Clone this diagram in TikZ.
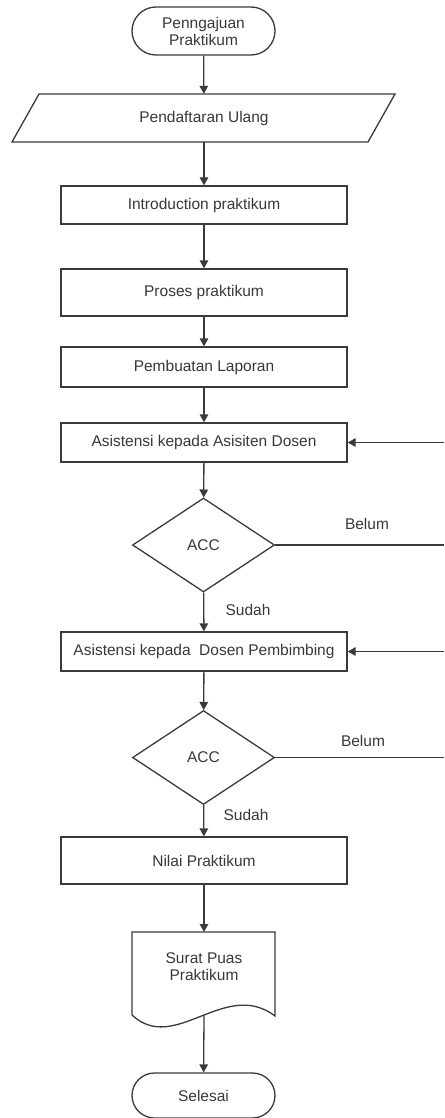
\documentclass[tikz,border=0pt]{standalone}
\usepackage{fontspec}
\setmainfont{Liberation Sans}
\usetikzlibrary{shapes.geometric,arrows.meta}
\definecolor{ln}{HTML}{3A3A3A}
\definecolor{tx}{HTML}{383838}
\tikzset{
  every node/.style={font=\fontsize{15.5}{17}\selectfont, text=tx},
  boxnode/.style={draw=ln, line width=1.3pt, rectangle, minimum width=286pt, inner sep=0pt},
  termnode/.style={draw=ln, line width=1.3pt, rounded rectangle, minimum width=143pt, inner sep=0pt, align=center},
  decnode/.style={draw=ln, line width=1.3pt, diamond, aspect=1.51, minimum width=142pt, minimum height=94pt, inner sep=0pt},
  arr/.style={draw=ln, line width=1.3pt, -{Triangle[length=8pt,width=8.5pt]}},
  lin/.style={draw=ln, line width=1.3pt},
}
\usetikzlibrary{shapes.misc}
\begin{document}
\begin{tikzpicture}[x=1pt,y=-1pt]
\useasboundingbox (0,0) rectangle (444,1118);
% start
\node[termnode, minimum height=48pt] (start) at (203.5,31) {Penngajuan\\Praktikum};
% parallelogram
\draw[lin] (39,94) -- (395,94) -- (368,142) -- (12,142) -- cycle;
\node[minimum width=356pt, minimum height=48pt, inner sep=0pt] (pend) at (204,118) {Pendaftaran Ulang};
% boxes
\node[boxnode, minimum height=38pt] (intro) at (204,205) {Introduction praktikum};
\node[boxnode, minimum height=47pt] (proses) at (204,292.5) {Proses praktikum};
\node[boxnode, minimum height=40pt] (lapor) at (204,367) {Pembuatan Laporan};
\node[boxnode, minimum height=39pt] (asis) at (204,442.5) {Asistensi kepada Asisiten Dosen};
\node[decnode] (acc1) at (203.5,545) {ACC};
\node[boxnode, minimum height=39pt] (dosen) at (204,651.5) {Asistensi kepada\ \ Dosen Pembimbing};
\node[decnode] (acc2) at (203.5,757.5) {ACC};
\node[boxnode, minimum height=47pt] (nilai) at (204,860.5) {Nilai Praktikum};
% document
\draw[lin] (132,1015) -- (132,932) -- (275,932) -- (275,1016)
  .. controls (225,978) and (175,1055) .. (132,1015);
\node[align=center] (surat) at (204,967) {Surat Puas\\Praktikum};
\coordinate (doctop) at (204,932);
\coordinate (docbot) at (204,1015);
% end
\node[termnode, minimum height=45pt] (selesai) at (203.5,1095.5) {Selesai};
% feedback coordinates
\coordinate (fb1) at (444,442.5);
\coordinate (fb2) at (444,545);
\coordinate (fb3) at (444,651.5);
\coordinate (fb4) at (444,757.5);
% connectors
\draw[arr] (start) -- (pend);
\draw[arr] (pend) -- (intro);
\draw[arr] (intro) -- (proses);
\draw[arr] (proses) -- (lapor);
\draw[arr] (lapor) -- (asis);
\draw[arr] (asis) -- (acc1);
\draw[arr] (acc1) -- (dosen);
\draw[arr] (dosen) -- (acc2);
\draw[arr] (acc2) -- (nilai);
\draw[arr] (nilai) -- (doctop);
\draw[arr] (docbot) -- (selesai);
\draw[arr] (fb1) -- (asis.east);
\draw[lin] (acc1.east) -- (fb2);
\draw[arr] (fb3) -- (dosen.east);
\draw[lin] (acc2.east) -- (fb4);
% labels
\node (belum1) at (367,524) {Belum};
\node (sudah1) at (248,610) {Sudah};
\node (belum2) at (363,741) {Belum};
\node (sudah2) at (246,815) {Sudah};
\end{tikzpicture}
\end{document}
